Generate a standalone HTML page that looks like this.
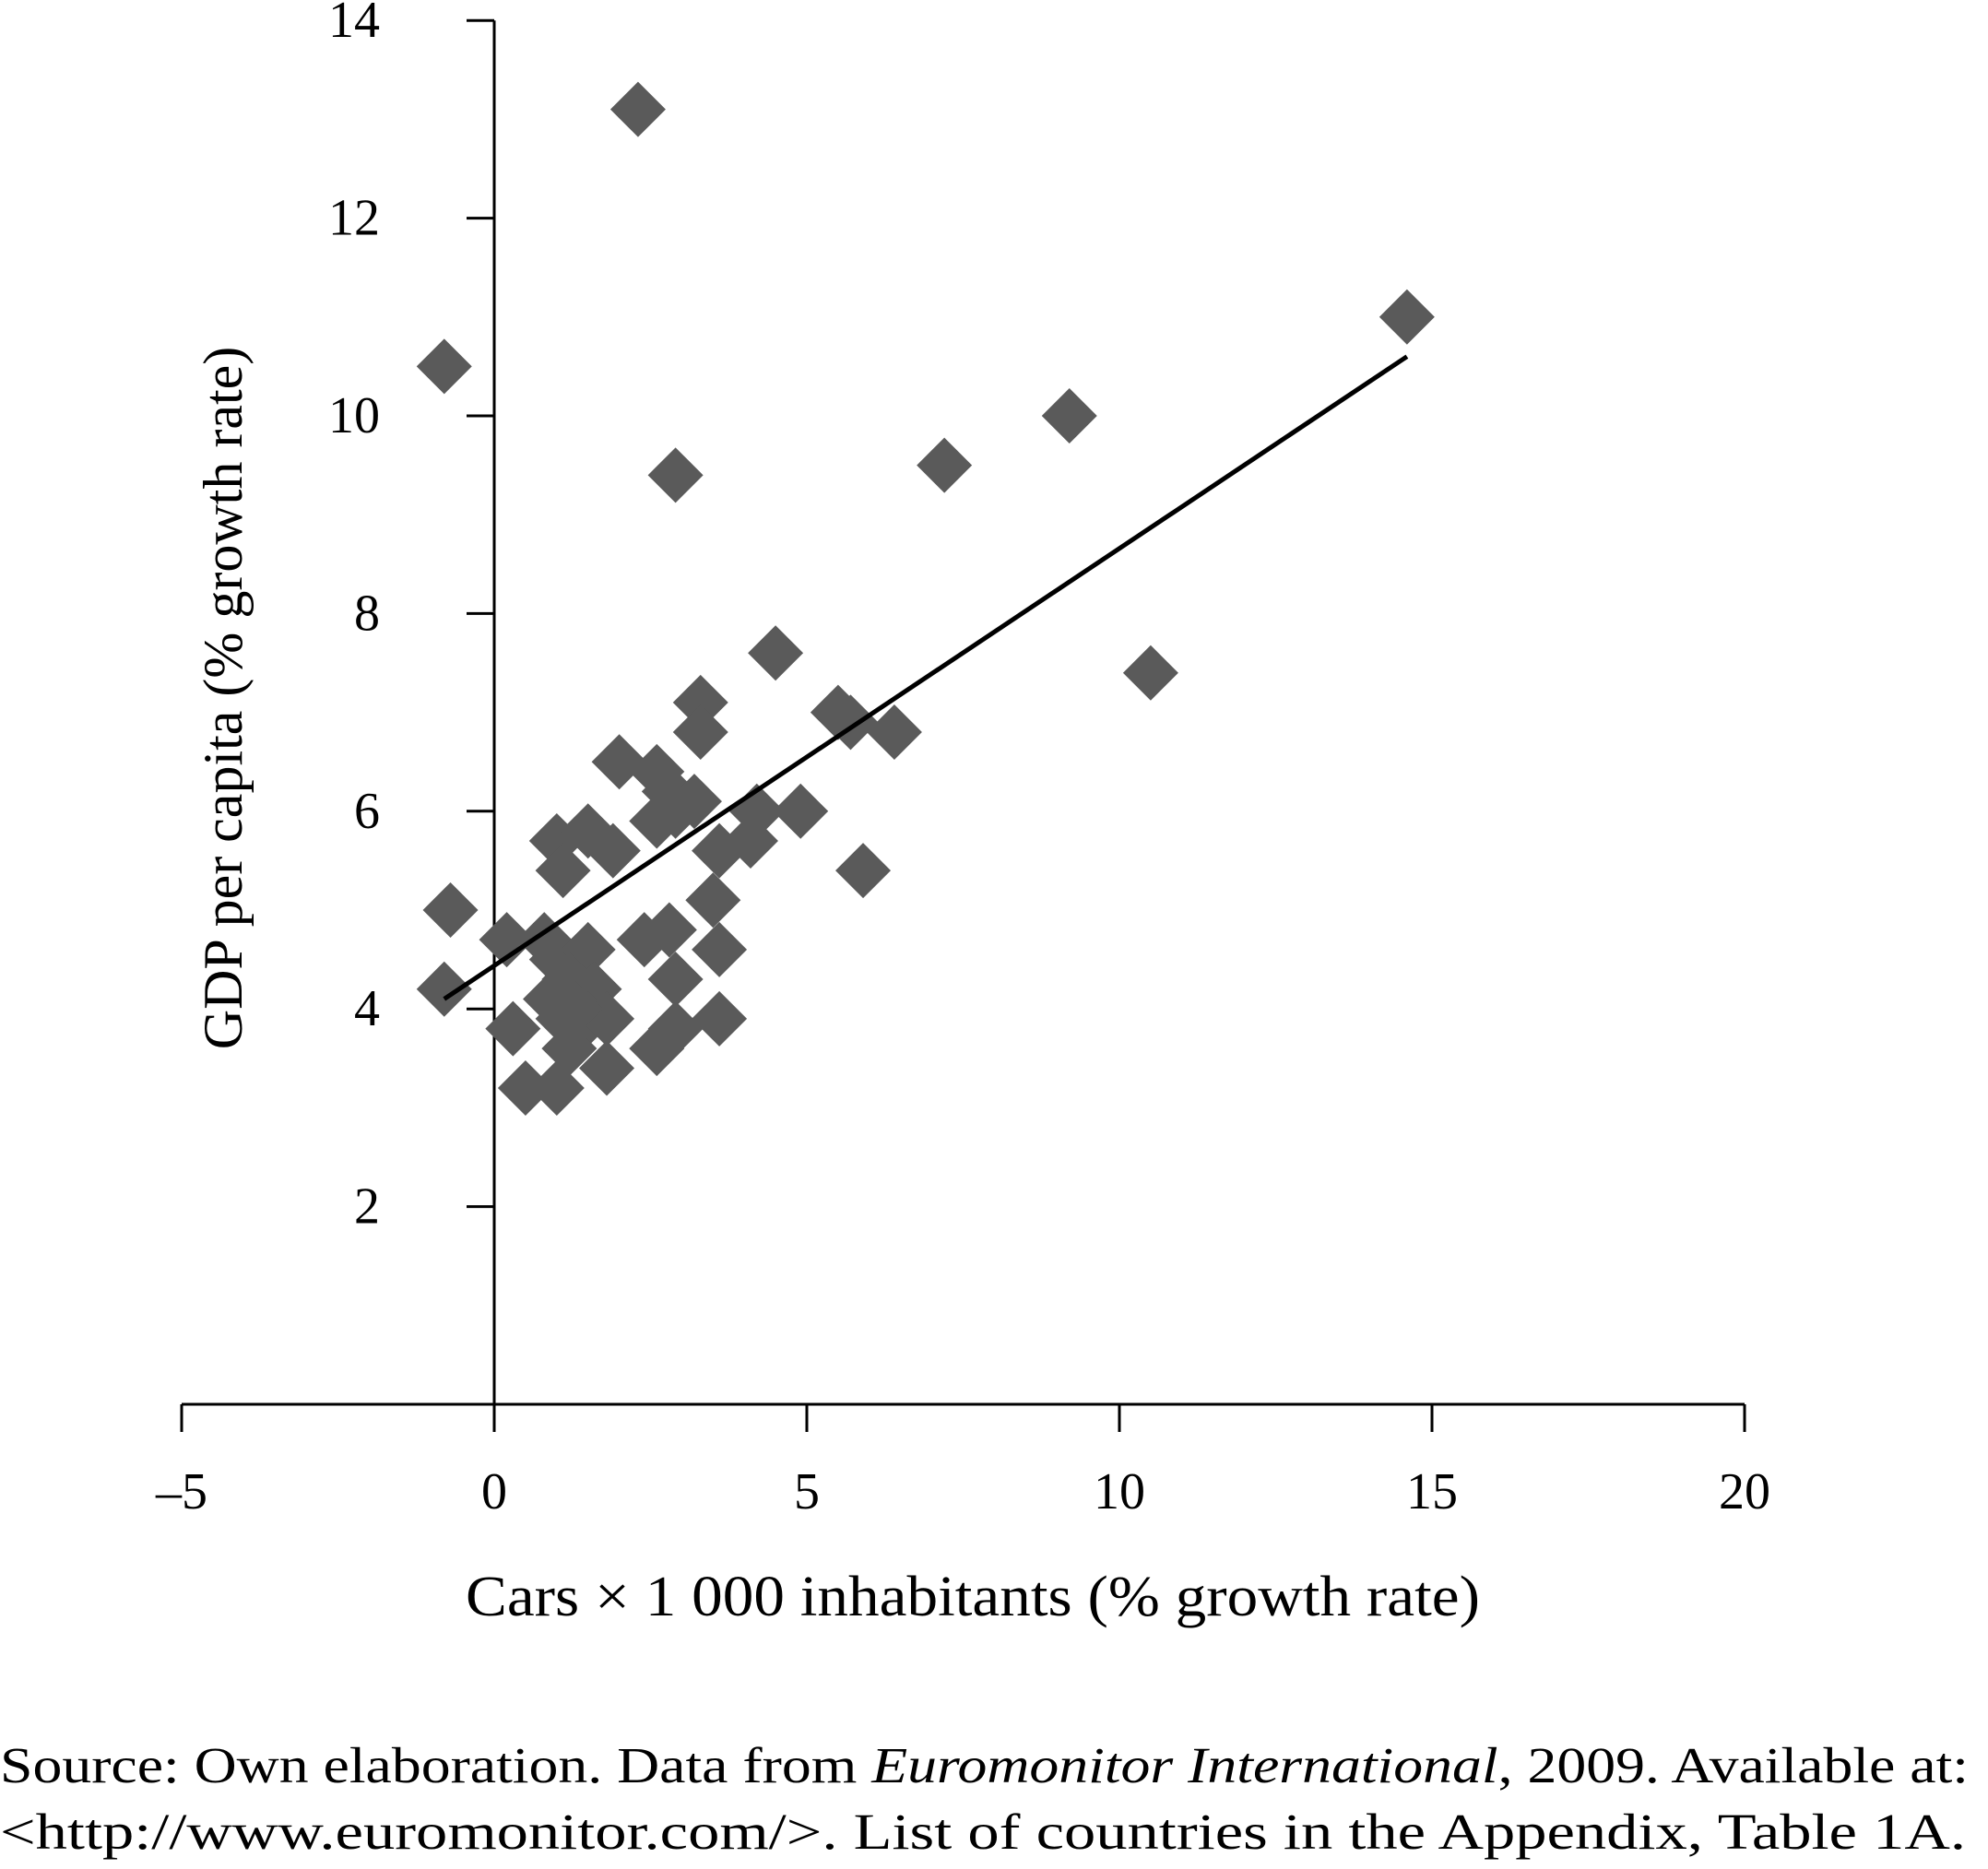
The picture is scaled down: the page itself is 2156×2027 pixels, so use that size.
<!DOCTYPE html>
<html><head><meta charset="utf-8"><style>
html,body{margin:0;padding:0;background:#fff;}
svg{display:block;font-family:"Liberation Serif",serif;}
</style></head><body>
<svg id="chart" width="2156" height="2027" viewBox="0 0 2156 2027" xmlns="http://www.w3.org/2000/svg">
<g id="axes"></g>
<g id="points"></g>
<g id="trend"></g>
<text x="1055" y="1752" font-size="62" text-anchor="middle" textLength="1100" lengthAdjust="spacingAndGlyphs">Cars × 1 000 inhabitants (% growth rate)</text>
<text transform="translate(262,757) rotate(-90)" font-size="60" text-anchor="middle">GDP per capita (% growth rate)</text>
<text x="0" y="1933" font-size="55" textLength="2135" lengthAdjust="spacingAndGlyphs">Source: Own elaboration. Data from <tspan font-style="italic">Euromonitor International</tspan>, 2009. Available at:</text>
<text x="0" y="2005" font-size="55" textLength="2132" lengthAdjust="spacingAndGlyphs">&lt;http://www.euromonitor.com/&gt;. List of countries in the Appendix, Table 1A.</text>
</svg>
<script>
const xTicks = [-5, 0, 5, 10, 15, 20];
const xTickLabels = ["–5", "0", "5", "10", "15", "20"];
const yTicks = [2, 4, 6, 8, 10, 12, 14];
const yTickLabels = ["2", "4", "6", "8", "10", "12", "14"];
const carsGrowth = [-0.8,2.3,14.6,9.2,7.2,2.9,4.5,10.5,3.3,3.3,5.5,5.7,6.4,2.0,2.6,2.8,3.2,2.6,2.9,4.2,4.9,1.0,1.5,1.9,1.1,3.6,4.1,5.9,3.5,-0.7,0.2,0.8,1.0,1.5,2.4,2.8,3.6,1.2,1.6,-0.8,2.9,0.3,1.1,1.5,1.8,3.6,1.2,2.6,2.9,1.8,0.5,1.0,0.9,1.3];
const gdpGrowth = [10.5,13.1,11.0,10.0,9.5,9.4,7.6,7.4,7.1,6.8,7.0,6.9,6.8,6.5,6.4,6.2,6.1,5.9,6.0,6.0,6.0,5.7,5.8,5.6,5.4,5.6,5.7,5.4,5.1,5.0,4.7,4.7,4.5,4.6,4.7,4.8,4.6,4.3,4.2,4.2,4.3,3.8,3.9,3.9,3.9,3.9,3.6,3.6,3.8,3.4,3.2,3.2,4.1,4.0];
const trendX = [-0.8, 14.6];
const trendY = [4.1, 10.6];

const NS = "http://www.w3.org/2000/svg";
const X = v => 536 + v * 67.8;
const Y = v => 1523 - v * 107.2;
function mk(tag, attrs, parent){const e=document.createElementNS(NS,tag);for(const k in attrs)e.setAttribute(k,attrs[k]);parent.appendChild(e);return e;}
const axes=document.getElementById('axes');
let l=mk('line',{x1:X(-5),x2:X(20),y1:Y(0),y2:Y(0),stroke:'#000','stroke-width':3},axes);


l=mk('line',{x1:X(0),x2:X(0),y1:Y(14),y2:Y(0)+18,stroke:'#000','stroke-width':3},axes);


xTicks.forEach((t,i)=>{
  const tk=mk('line',{x1:X(t),x2:X(t),y1:Y(0),y2:Y(0)+30,stroke:'#000','stroke-width':3},axes);
  
  
  const tx=mk('text',{x:X(t),y:Y(0)+113,'font-size':56,'text-anchor':'middle'},axes);
  tx.textContent=xTickLabels[i];
  
  
});
yTicks.forEach((t,i)=>{
  const tk=mk('line',{x1:X(0)-30,x2:X(0),y1:Y(t),y2:Y(t),stroke:'#000','stroke-width':3},axes);
  
  
  const tx=mk('text',{x:X(0)-124,y:Y(t)+18,'font-size':56,'text-anchor':'end'},axes);
  tx.textContent=yTickLabels[i];
  
  
});
const pts=document.getElementById('points');
const r=30;
carsGrowth.forEach((xv,i)=>{
  const cx=X(xv), cy=Y(gdpGrowth[i]);
  const p=mk('polygon',{points:`${cx},${cy-r} ${cx+r},${cy} ${cx},${cy+r} ${cx-r},${cy}`,fill:'#5a5a5a'},pts);
  
  
});
const tl=mk('line',{x1:X(trendX[0]),y1:Y(trendY[0]),x2:X(trendX[1]),y2:Y(trendY[1]),stroke:'#000','stroke-width':5},document.getElementById('trend'));


</script>
</body></html>
